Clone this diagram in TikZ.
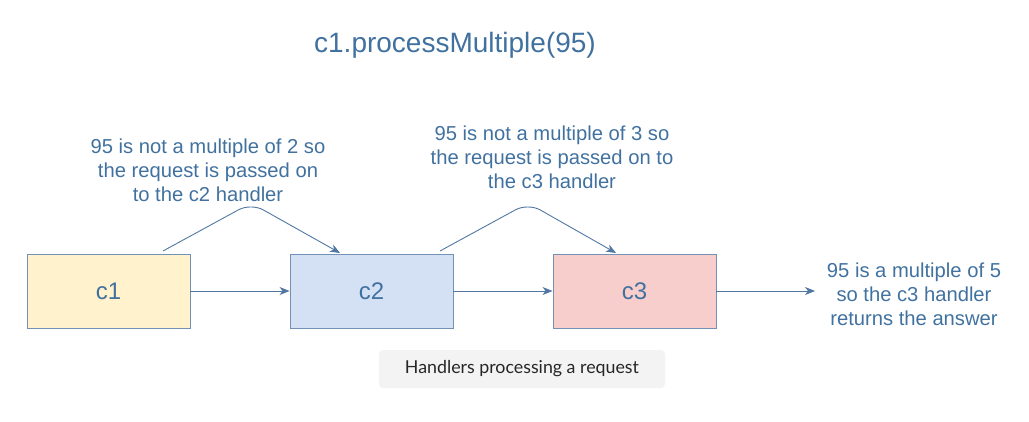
\documentclass[tikz,border=0pt]{standalone}
\usepackage{fontspec}
\setmainfont{Liberation Sans}
\newfontfamily\capfont{Lato}
\usetikzlibrary{arrows.meta}
\definecolor{txt}{HTML}{41719F}
\definecolor{edge}{HTML}{4F77A2}
\definecolor{bstroke}{HTML}{7391B5}
\definecolor{yel}{HTML}{FFF2CC}
\definecolor{blu}{HTML}{D4E1F5}
\definecolor{red}{HTML}{F8CECC}
\definecolor{capbg}{HTML}{F3F3F3}
\tikzset{
  handler/.style={draw=bstroke, line width=0.9pt, minimum width=163pt, minimum height=74pt, inner sep=0pt, text=txt, font=\fontsize{24}{28}\selectfont},
  conn/.style={draw=edge, line width=0.9pt, -{Stealth[length=10pt,width=8pt,inset=3pt]}},
  note/.style={text=txt, align=center, font=\fontsize{20.2}{24}\selectfont, inner sep=0pt},
}
\begin{document}
\begin{tikzpicture}[x=1pt,y=-1pt]
\useasboundingbox (0,0) rectangle (1029,422);
\node[text=txt, font=\fontsize{28}{32}\selectfont] (title) at (455,45) {c1.processMultiple(95)};
\node[handler, fill=yel] (c1) at (108.5,291) {c1};
\node[handler, fill=blu] (c2) at (371.5,291) {c2};
\node[handler, fill=red] (c3) at (634.5,291) {c3};
\coordinate (out) at (815,291);
\draw[conn] (c1) -- (c2);
\draw[conn] (c2) -- (c3);
\draw[conn] (c3) -- (out);
\coordinate (s1) at (163,251);
\coordinate (p1) at (251,203);
\coordinate (e1) at (340,253);
\coordinate (s2) at (440,251);
\coordinate (p2) at (528,203);
\coordinate (e2) at (616,253);
\draw[conn, rounded corners=14pt] (s1) -- (p1) -- (e1);
\draw[conn, rounded corners=14pt] (s2) -- (p2) -- (e2);
\node[note] (n1) at (208,170) {95 is not a multiple of 2 so\\the request is passed on\\to the c2 handler};
\node[note] (n2) at (552,157) {95 is not a multiple of 3 so\\the request is passed on to\\the c3 handler};
\node[note] (n3) at (914,294) {95 is a multiple of 5\\so the c3 handler\\returns the answer};
\node[fill=capbg, rounded corners=4pt, minimum width=286pt, minimum height=38pt, inner sep=0pt, font=\capfont\fontsize{17.8}{20}\selectfont, text=black!85] (cap) at (522,369) {Handlers processing a request};
\end{tikzpicture}
\end{document}
